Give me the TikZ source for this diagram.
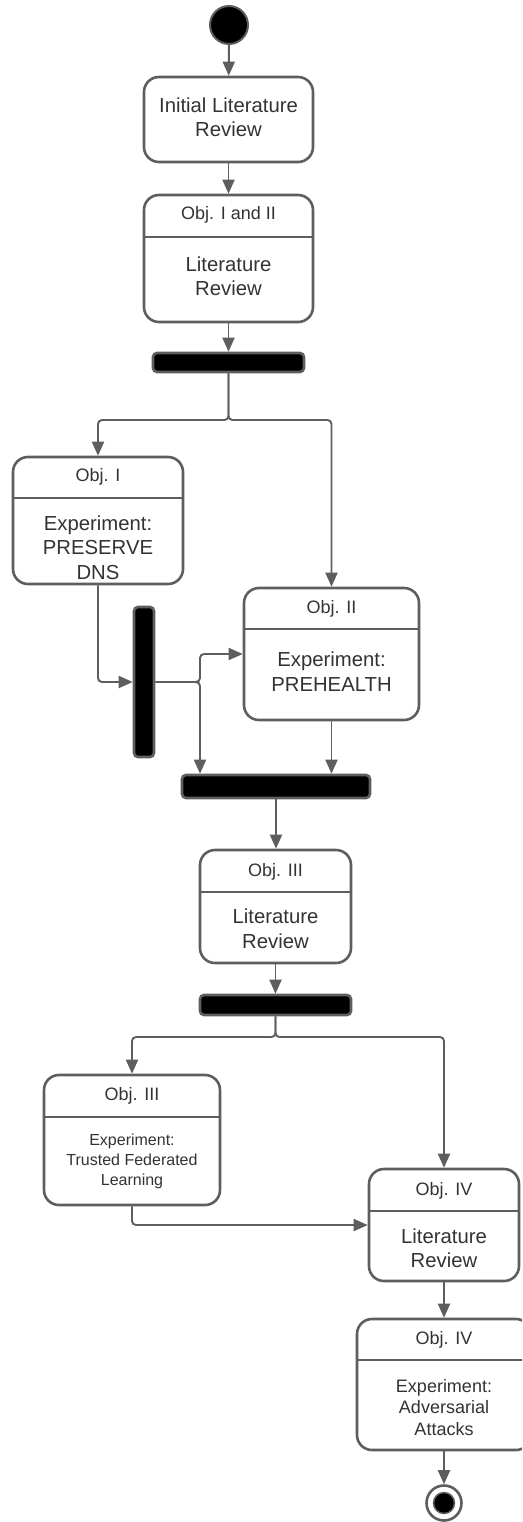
\documentclass[tikz,border=0pt]{standalone}
\usepackage{fontspec}
\setmainfont{Liberation Sans}
\usetikzlibrary{arrows.meta}
\definecolor{edge}{HTML}{5E5E5E}
\definecolor{ink}{HTML}{333333}

\begin{document}
\begin{tikzpicture}[x=1pt,y=-1pt,
  actbox/.style={draw=edge, line width=2.6pt, rounded corners=15pt, fill=white, inner sep=0pt},
  divider/.style={draw=edge, line width=2.6pt},
  bar/.style={draw=edge, fill=black, line width=2.6pt, rounded corners=4pt, inner sep=0pt},
  conn/.style={draw=edge, line width=1.9pt, -{Triangle[length=14pt,width=12pt]}, rounded corners=4pt},
  head/.style={text=ink, inner sep=0pt, anchor=base, font=\fontsize{18}{21}\selectfont},
  body/.style={text=ink, inner sep=0pt, align=center, font=\fontsize{20.3}{24.4}\selectfont},
  smallbody/.style={body, font=\fontsize{16}{20}\selectfont},
  midbody/.style={body, font=\fontsize{18}{21.5}\selectfont},
]
\useasboundingbox (0,0) rectangle (522,1522);
\clip (0,0) rectangle (522,1522);

% start and end states
\node[circle, fill=black, draw=edge, line width=2pt, minimum size=38pt, inner sep=0pt] (start) at (229,25) {};
\node[circle, draw=edge, line width=2.6pt, minimum size=35pt, inner sep=0pt] (end) at (444,1503) {};
\node[circle, fill=black, draw=edge, line width=1.5pt, minimum size=21pt, inner sep=0pt] (endc) at (444,1503) {};

% activity boxes
\node[actbox, minimum width=169pt, minimum height=85pt] (init) at (228.5,119.5) {};
\node[body] (initt) at (228.5,117) {Initial Literature\\Review};

\node[actbox, minimum width=169pt, minimum height=127pt] (lit1) at (228.5,258.5) {};
\draw[divider] (lit1.west |- 0,237) -- (lit1.east |- 0,237);
\node[head] (lit1h) at (228.5,220) {Obj. I and II};
\node[body] (lit1b) at (228.5,276.5) {Literature\\Review};

\node[actbox, minimum width=170pt, minimum height=127pt] (objI) at (98,520.5) {};
\draw[divider] (objI.west |- 0,498) -- (objI.east |- 0,498);
\node[head] (objIh) at (98,481.7) {Obj. I};
\node[body] (objIb) at (98,547.7) {Experiment:\\PRESERVE\\DNS};

\node[actbox, minimum width=175pt, minimum height=132pt] (objII) at (331.5,654) {};
\draw[divider] (objII.west |- 0,629) -- (objII.east |- 0,629);
\node[head] (objIIh) at (331.5,613.3) {Obj. II};
\node[body] (objIIb) at (331.5,671.8) {Experiment:\\PREHEALTH};

\node[actbox, minimum width=151pt, minimum height=113pt] (objIII) at (275.5,906.5) {};
\draw[divider] (objIII.west |- 0,892) -- (objIII.east |- 0,892);
\node[head] (objIIIh) at (275.5,876) {Obj. III};
\node[body] (objIIIb) at (275.5,928.8) {Literature\\Review};

\node[actbox, minimum width=176pt, minimum height=130pt] (objIIIx) at (132,1140) {};
\draw[divider] (objIIIx.west |- 0,1117) -- (objIIIx.east |- 0,1117);
\node[head] (objIIIxh) at (132,1100) {Obj. III};
\node[smallbody] (objIIIxb) at (132,1160.9) {Experiment:\\Trusted Federated\\Learning};

\node[actbox, minimum width=150pt, minimum height=112pt] (objIVa) at (444,1225) {};
\draw[divider] (objIVa.west |- 0,1211) -- (objIVa.east |- 0,1211);
\node[head] (objIVah) at (444,1195) {Obj. IV};
\node[body] (objIVab) at (444,1248.3) {Literature\\Review};

\node[actbox, minimum width=174pt, minimum height=131pt] (objIVb) at (444,1384.5) {};
\draw[divider] (objIVb.west |- 0,1360) -- (objIVb.east |- 0,1360);
\node[head] (objIVbh) at (444,1344) {Obj. IV};
\node[midbody] (objIVbb) at (444,1407.5) {Experiment:\\Adversarial\\Attacks};

% fork / join bars
\node[bar, minimum width=151pt, minimum height=19pt] (bar1) at (228.5,362.5) {};
\node[bar, minimum width=20pt, minimum height=150pt] (vbar) at (144,682) {};
\node[bar, minimum width=188pt, minimum height=23pt] (bar2) at (276,786.5) {};
\node[bar, minimum width=151pt, minimum height=20pt] (bar3) at (275.5,1005) {};

% connectors
\draw[conn] (start) -- (init);
\draw[conn] (init) -- (lit1);
\draw[conn] (lit1) -- (bar1);

\coordinate (f1) at (bar1.south |- 0,420);
\draw[conn] (bar1.south) -- (f1) -| (objI.north);
\draw[conn] (bar1.south) -- (f1) -| (objII.north);

\draw[conn] (objI.south) |- (vbar.west);
\coordinate (j1) at (200,682);
\draw[conn] (vbar.east) -- (j1) |- (objII.west);
\draw[conn] (vbar.east) -- (j1) -- (j1 |- bar2.north);
\draw[conn] (objII.south) -- (objII.south |- bar2.north);

\draw[conn] (bar2.south) -- (bar2.south |- objIII.north);
\draw[conn] (objIII) -- (bar3);

\coordinate (f2) at (bar3.south |- 0,1037);
\draw[conn] (bar3.south) -- (f2) -| (objIIIx.north);
\draw[conn] (bar3.south) -- (f2) -| (objIVa.north);

\draw[conn] (objIIIx.south) |- (objIVa.west);
\draw[conn] (objIVa) -- (objIVb);
\draw[conn] (objIVb) -- (end);
\end{tikzpicture}
\end{document}
